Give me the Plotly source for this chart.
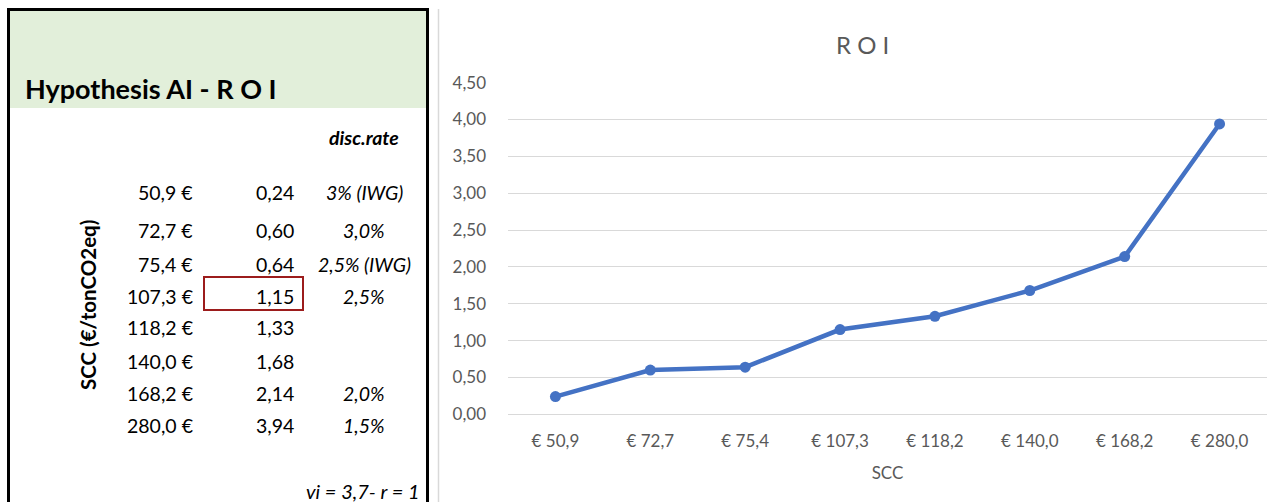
import plotly.graph_objects as go

W, H = 1288, 502

# ---------------- data ----------------
scc_values = [50.9, 72.7, 75.4, 107.3, 118.2, 140.0, 168.2, 280.0]
roi_values = [0.24, 0.60, 0.64, 1.15, 1.33, 1.68, 2.14, 3.94]
disc_rates = ["3% (IWG)", "3,0%", "2,5% (IWG)", "2,5%", "", "", "2,0%", "1,5%"]
y_tick_values = [0.0, 0.5, 1.0, 1.5, 2.0, 2.5, 3.0, 3.5, 4.0, 4.5]
highlight_index = 3


def fmt(v, d):
    return f"{v:.{d}f}".replace(".", ",")


x_labels = [f"€ {fmt(v, 1)}" for v in scc_values]
y_tick_text = [fmt(v, 2) for v in y_tick_values]

# ---------------- layout helpers (pixel -> paper) ----------------
def px(x):
    return x / W


def py(y):
    return 1 - y / H


FONT = "Lato"
GRAY = "#595959"

fig = go.Figure()
fig.add_trace(go.Scatter(
    x=x_labels, y=roi_values, mode="lines+markers",
    line=dict(color="#4472C4", width=4.5),
    marker=dict(color="#4472C4", size=11),
    showlegend=False, hoverinfo="x+y",
))

annotations = []
shapes = []

# Left panel: header fill and borders
shapes.append(dict(type="rect", xref="paper", yref="paper",
                   x0=px(10), x1=px(426), y0=py(108), y1=py(10),
                   fillcolor="#E2EFDA", line=dict(width=0), layer="below"))
border = dict(color="black", width=3)
shapes.append(dict(type="line", xref="paper", yref="paper",
                   x0=px(8.5), x1=px(8.5), y0=py(8), y1=py(H), line=border))
shapes.append(dict(type="line", xref="paper", yref="paper",
                   x0=px(427.5), x1=px(427.5), y0=py(8), y1=py(H), line=border))
shapes.append(dict(type="line", xref="paper", yref="paper",
                   x0=px(7), x1=px(429), y0=py(9.5), y1=py(9.5), line=border))
# chart area separator line
shapes.append(dict(type="line", xref="paper", yref="paper",
                   x0=px(438.5), x1=px(438.5), y0=py(9), y1=py(H),
                   line=dict(color="#D9D9D9", width=1.5)))

annotations.append(dict(text="<b>Hypothesis AI - R O I</b>", xref="paper", yref="paper",
                        x=px(23), y=py(88), xanchor="left", yanchor="middle",
                        showarrow=False, font=dict(family=FONT, size=27, color="black")))
annotations.append(dict(text="<b><i>disc.rate</i></b>", xref="paper", yref="paper",
                        x=px(364), y=py(137), xanchor="center", yanchor="middle",
                        showarrow=False, font=dict(family=FONT, size=19.5, color="black")))

row_y = [192, 230, 264, 296, 327, 361, 393, 425]
for i, (s, r, d) in enumerate(zip(scc_values, roi_values, disc_rates)):
    annotations.append(dict(text=f"{fmt(s, 1)} €", xref="paper", yref="paper",
                            x=px(195), y=py(row_y[i]), xanchor="right", yanchor="middle",
                            showarrow=False, font=dict(family=FONT, size=19.5, color="black")))
    annotations.append(dict(text=fmt(r, 2), xref="paper", yref="paper",
                            x=px(296), y=py(row_y[i]), xanchor="right", yanchor="middle",
                            showarrow=False, font=dict(family=FONT, size=19.5, color="black")))
    if d:
        annotations.append(dict(text=f"<i>{d}</i>", xref="paper", yref="paper",
                                x=px(364), y=py(row_y[i]), xanchor="center", yanchor="middle",
                                showarrow=False, font=dict(family=FONT, size=19.5, color="black")))

hy = row_y[highlight_index]
shapes.append(dict(type="rect", xref="paper", yref="paper",
                   x0=px(204), x1=px(303), y0=py(hy + 14), y1=py(hy - 19),
                   line=dict(color="#9C1C1C", width=2), fillcolor="rgba(0,0,0,0)"))

annotations.append(dict(text="<b>SCC (€/tonCO2eq)</b>", xref="paper", yref="paper",
                        x=px(88), y=py(305), xanchor="center", yanchor="middle", textangle=-90,
                        showarrow=False, font=dict(family=FONT, size=20.5, color="black")))
annotations.append(dict(text="<i>vi = 3,7- r = 1</i>", xref="paper", yref="paper",
                        x=px(422), y=py(491), xanchor="right", yanchor="middle",
                        showarrow=False, font=dict(family=FONT, size=20, color="black")))

# Chart title
annotations.append(dict(text="R O I", xref="paper", yref="paper",
                        x=px(862), y=py(44), xanchor="center", yanchor="middle",
                        showarrow=False, font=dict(family=FONT, size=24, color=GRAY)))

fig.update_layout(
    width=W, height=H,
    margin=dict(l=0, r=0, t=0, b=0, pad=0, autoexpand=False),
    paper_bgcolor="white", plot_bgcolor="white",
    font=dict(family=FONT, color=GRAY),
    annotations=annotations, shapes=shapes,
    xaxis=dict(
        domain=[px(508), px(1267)], type="category",
        range=[-0.5, len(x_labels) - 0.5],
        showgrid=False, zeroline=False, showline=False, ticks="",
        tickfont=dict(family=FONT, size=17, color=GRAY),
        ticklabelstandoff=15, automargin=False,
        title=dict(text="SCC", font=dict(family=FONT, size=17, color=GRAY), standoff=16),
        fixedrange=True,
    ),
    yaxis=dict(
        domain=[py(414.3), py(82.7)], range=[0, 4.5],
        tickvals=y_tick_values, ticktext=y_tick_text,
        showgrid=True, gridcolor="#D9D9D9", gridwidth=1.3,
        zeroline=True, zerolinecolor="#D9D9D9", zerolinewidth=1.3,
        showline=False, ticks="",
        tickfont=dict(family=FONT, size=17, color=GRAY),
        ticklabelstandoff=21, automargin=False,
        fixedrange=True,
    ),
)

fig.write_html("out.html")
